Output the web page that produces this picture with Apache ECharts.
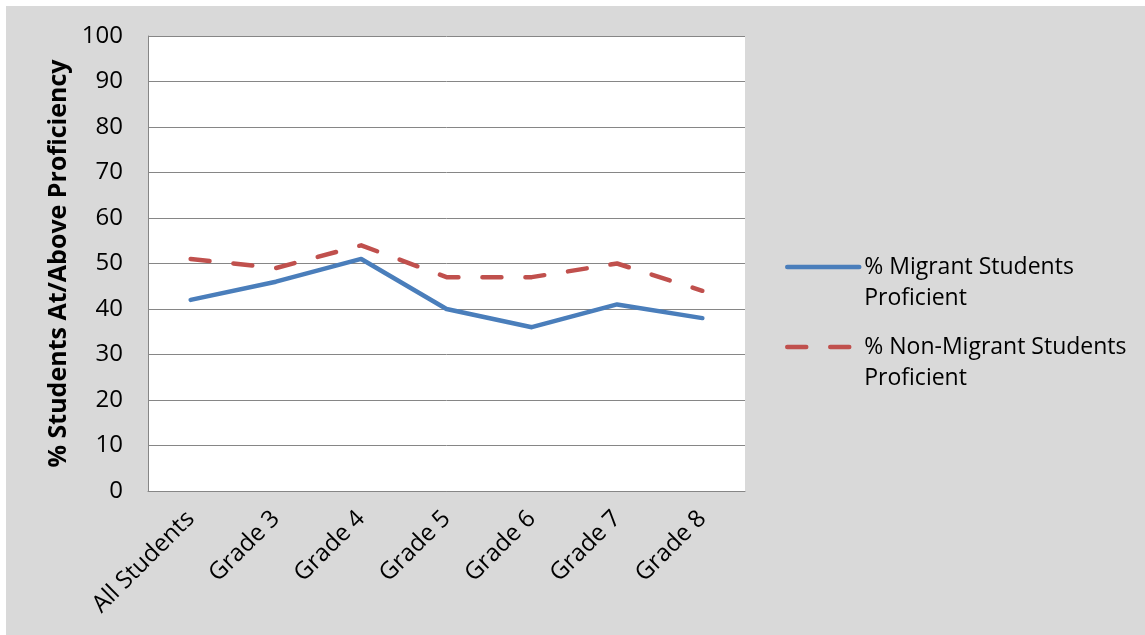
<!DOCTYPE html>
<html>
<head>
<meta charset="utf-8">
<script src="https://cdn.jsdelivr.net/npm/echarts@6/dist/echarts.min.js"></script>
<style>
  html, body { margin: 0; padding: 0; background: #ffffff; }
  #chart { position: absolute; left: 6px; top: 6px; width: 1139px; height: 629px; }
</style>
</head>
<body>
<div id="chart"></div>
<script>
// Proficiency rates by grade
const categories = ['All Students', 'Grade 3', 'Grade 4', 'Grade 5', 'Grade 6', 'Grade 7', 'Grade 8'];
const migrant = [42, 46, 51, 40, 36, 41, 38];
const nonMigrant = [51, 49, 54, 47, 47, 50, 44];
const seriesNames = ['% Migrant Students Proficient', '% Non-Migrant Students Proficient'];
// Legend text: leading blank line keeps the key line level with the first text line
const legendLabels = {
  '% Migrant Students Proficient': '\n% Migrant Students\nProficient',
  '% Non-Migrant Students Proficient': '\n% Non-Migrant Students\nProficient'
};

const FONT = 'Open Sans';
const AXIS_GREY = '#868686';

const chart = echarts.init(document.getElementById('chart'));

function legendFor(name, top) {
  return {
    data: [name],
    left: 779,
    top: top,
    padding: 0,
    orient: 'vertical',
    itemWidth: 72,
    itemHeight: 14,
    selectedMode: false,
    formatter: n => legendLabels[n],
    lineStyle: { width: 4.5, cap: 'round' },
    itemStyle: { color: 'rgba(0,0,0,0)', borderWidth: 0 },
    textStyle: {
      fontFamily: FONT,
      fontSize: 23,
      lineHeight: 31,
      color: '#000'
    }
  };
}

chart.setOption({
  backgroundColor: '#d9d9d9',
  animation: false,
  textStyle: { fontFamily: FONT },
  grid: {
    left: 142, top: 30, right: 400, bottom: 144,
    show: true, backgroundColor: '#ffffff', borderWidth: 0
  },
  legend: [
    legendFor(seriesNames[0], 261 - 46.5),
    legendFor(seriesNames[1], 341 - 46.5)
  ],
  xAxis: {
    type: 'category',
    data: categories,
    boundaryGap: true,
    axisLine: { show: true, lineStyle: { color: AXIS_GREY, width: 1 } },
    axisTick: { show: false },
    axisLabel: {
      rotate: 45, margin: 24, interval: 0,
      fontFamily: FONT, fontSize: 24, color: '#000'
    }
  },
  yAxis: {
    type: 'value',
    min: 0, max: 100, interval: 10,
    name: '% Students At/Above Proficiency',
    nameLocation: 'middle',
    nameRotate: 90,
    nameGap: 77,
    nameTextStyle: { fontFamily: FONT, fontSize: 25, fontWeight: 'bold', color: '#000' },
    axisLine: { show: true, lineStyle: { color: AXIS_GREY, width: 1 } },
    axisTick: { show: false },
    axisLabel: { margin: 25, fontFamily: FONT, fontSize: 24, color: '#000' },
    splitLine: { show: true, lineStyle: { color: AXIS_GREY, width: 1 } }
  },
  series: [
    {
      name: seriesNames[0],
      type: 'line',
      data: migrant,
      symbol: 'none',
      lineStyle: { color: '#4a7ebb', width: 4.5, cap: 'round', join: 'round' },
      itemStyle: { color: '#4a7ebb' }
    },
    {
      name: seriesNames[1],
      type: 'line',
      data: nonMigrant,
      symbol: 'none',
      lineStyle: { color: '#c0504d', width: 4.5, type: [19, 24], cap: 'round', join: 'round' },
      itemStyle: { color: '#c0504d' }
    }
  ]
});
</script>
</body>
</html>
